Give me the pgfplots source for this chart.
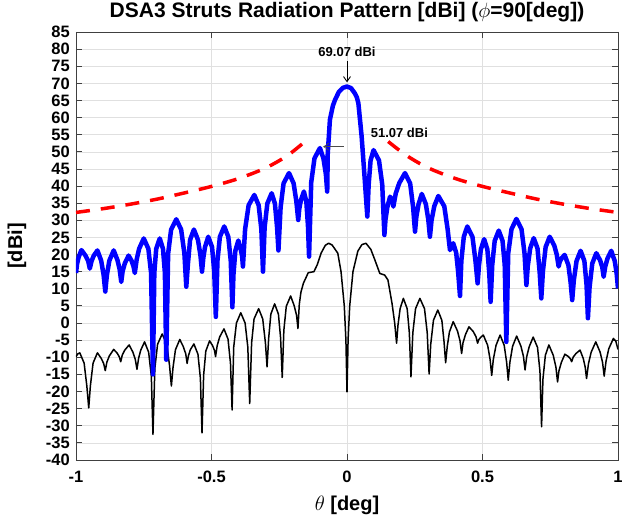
\documentclass[border=0pt]{standalone}
\usepackage{pgfplots}
\pgfplotsset{compat=1.18}
\usepackage{fontspec}
\setmainfont{Liberation Sans}
\usetikzlibrary{arrows.meta}

\begin{document}
\begin{tikzpicture}
\useasboundingbox (-76pt,-57pt) rectangle (554pt,460pt);
\begin{axis}[
  at={(0,0)}, anchor=south west,
  scale only axis, width=542pt, height=428pt,
  xmin=-1, xmax=1, ymin=-40, ymax=85,
  xtick={-1,-0.5,0,0.5,1}, ytick distance=5,
  /pgf/number format/assume math mode=true,
  tick label style={font=\bfseries\fontsize{16.5}{16.5}\selectfont, inner sep=1pt},
  xticklabel style={yshift=-10pt},
  yticklabel style={xshift=-5pt},
  grid=major, major grid style={black!12, line width=0.6pt},
  axis line style={black!75, line width=0.9pt},
  major tick length=6pt, tick style={black!75, line width=0.9pt},
  title={DSA3 Struts Radiation Pattern [dBi] ($\phi$=90[deg])},
  title style={font=\bfseries\fontsize{21}{21}\selectfont, at={(axis description cs:0.5,1)}, anchor=base, yshift=8pt},
  xlabel={$\theta$ [deg]}, ylabel={[dBi]},
  label style={font=\bfseries\fontsize{20}{20}\selectfont},
  xlabel style={at={(axis description cs:0.5,-0.105)}, anchor=center},
  ylabel style={at={(axis description cs:-0.109,0.5)}, anchor=center},
]
% black: reference pattern
\addplot[black, line width=1.5pt, line join=round] coordinates {
(-1.000,-9.8) (-0.993,-9.0) (-0.986,-8.7) (-0.970,-11.7) (-0.960,-18.4) (-0.953,-24.8)
(-0.947,-18.4) (-0.937,-11.7) (-0.921,-8.7) (-0.907,-10.3) (-0.898,-11.8) (-0.892,-13.9)
(-0.886,-11.4) (-0.877,-9.6) (-0.861,-7.7) (-0.848,-8.8) (-0.840,-9.9) (-0.835,-11.3)
(-0.829,-9.3) (-0.820,-7.9) (-0.804,-6.4) (-0.790,-8.5) (-0.781,-10.7) (-0.775,-13.5)
(-0.769,-10.3) (-0.761,-7.9) (-0.747,-5.5) (-0.732,-8.5) (-0.722,-15.5) (-0.716,-32.5)
(-0.709,-13.2) (-0.699,-6.2) (-0.682,-3.2) (-0.665,-6.2) (-0.655,-12.3) (-0.648,-18.4)
(-0.642,-13.0) (-0.633,-7.8) (-0.617,-4.8) (-0.604,-6.9) (-0.595,-9.0) (-0.590,-11.8)
(-0.585,-9.5) (-0.578,-7.8) (-0.565,-6.1) (-0.550,-9.1) (-0.541,-16.1) (-0.535,-32.1)
(-0.529,-15.2) (-0.521,-8.2) (-0.507,-5.2) (-0.496,-6.6) (-0.489,-8.0) (-0.485,-9.8)
(-0.479,-6.6) (-0.470,-4.1) (-0.454,-1.7) (-0.439,-4.7) (-0.430,-11.7) (-0.424,-25.4)
(-0.418,-7.0) (-0.408,0.0) (-0.392,3.0) (-0.376,0.0) (-0.366,-7.0) (-0.359,-23.5)
(-0.352,-5.8) (-0.343,1.2) (-0.326,4.2) (-0.311,1.2) (-0.301,-5.8) (-0.295,-12.8)
(-0.289,-4.4) (-0.281,2.6) (-0.267,5.6) (-0.253,2.6) (-0.245,-4.4) (-0.239,-15.9)
(-0.233,-2.1) (-0.224,4.9) (-0.208,7.9) (-0.195,5.1) (-0.186,2.2) (-0.181,-1.6)
(-0.176,5.5) (-0.170,9.0) (-0.161,11.6) (-0.143,14.7) (-0.122,15.0) (-0.110,17.0)
(-0.095,20.5) (-0.080,22.7) (-0.068,23.3) (-0.055,22.8) (-0.034,20.4) (-0.022,15.0)
(-0.010,5.0) (-0.004,-5.0) (0.000,-20.1) (0.004,-5.0) (0.010,5.0) (0.022,15.0)
(0.040,21.0) (0.055,22.9) (0.070,23.3) (0.088,21.5) (0.103,18.4) (0.121,14.5)
(0.139,14.0) (0.151,12.6) (0.166,5.8) (0.176,0.0) (0.183,-5.9)
(0.188,-0.7) (0.196,4.2) (0.208,7.2) (0.222,4.2) (0.230,-2.8) (0.236,-15.7)
(0.243,-2.8) (0.253,4.2) (0.269,7.2) (0.286,4.2) (0.296,-2.8) (0.303,-14.9)
(0.309,-6.2) (0.319,0.8) (0.335,3.8) (0.350,0.8) (0.358,-5.4) (0.364,-11.6)
(0.370,-6.8) (0.378,-2.6) (0.392,0.4) (0.408,-2.4) (0.417,-5.2) (0.423,-8.9)
(0.428,-5.8) (0.437,-3.4) (0.450,-1.1) (0.466,-2.5) (0.476,-4.0) (0.482,-5.9)
(0.486,-4.9) (0.493,-4.2) (0.503,-3.5) (0.519,-6.5) (0.528,-10.6) (0.534,-15.3)
(0.540,-10.6) (0.550,-6.5) (0.565,-3.5) (0.580,-6.5) (0.589,-11.4) (0.595,-16.7)
(0.601,-11.5) (0.611,-6.8) (0.626,-3.8) (0.642,-6.8) (0.651,-9.7) (0.657,-13.7)
(0.663,-9.9) (0.672,-7.0) (0.687,-4.1) (0.703,-7.1) (0.712,-14.1) (0.718,-30.3)
(0.723,-16.4) (0.732,-9.4) (0.745,-6.4) (0.761,-9.4) (0.771,-12.9) (0.777,-17.2)
(0.782,-14.0) (0.791,-11.5) (0.804,-9.1) (0.817,-9.8) (0.824,-10.4) (0.829,-11.3)
(0.835,-9.9) (0.845,-8.9) (0.860,-7.9) (0.872,-10.4) (0.879,-12.9) (0.884,-16.2)
(0.891,-11.9) (0.901,-8.5) (0.918,-5.5) (0.934,-8.5) (0.943,-11.5) (0.949,-15.5)
(0.956,-11.1) (0.966,-7.5) (0.983,-4.5) (0.992,-5.3) (1.000,-7.7)
};
% blue: struts pattern
\addplot[blue, line width=4.5pt, line join=round] coordinates {
(-1.000,14.6) (-0.996,17.3) (-0.990,19.3) (-0.980,21.3) (-0.965,19.7) (-0.955,18.1) (-0.949,15.9)
(-0.943,18.0) (-0.935,19.6) (-0.921,21.2) (-0.907,18.2) (-0.898,14.0) (-0.892,9.2)
(-0.886,14.0) (-0.877,18.2) (-0.861,21.2) (-0.847,18.4) (-0.839,15.7) (-0.833,12.0)
(-0.828,15.1) (-0.820,17.4) (-0.806,19.7) (-0.795,18.2) (-0.788,16.6) (-0.783,14.6)
(-0.776,18.6) (-0.767,21.7) (-0.750,24.7) (-0.733,21.7) (-0.723,14.7) (-0.716,-15.0)
(-0.711,14.7) (-0.704,21.7) (-0.691,24.7) (-0.679,21.7) (-0.672,14.7) (-0.667,-10.7)
(-0.660,20.3) (-0.649,27.3) (-0.630,30.3) (-0.612,27.3) (-0.600,20.3) (-0.593,10.6)
(-0.587,17.3) (-0.579,24.3) (-0.565,27.3) (-0.550,24.3) (-0.541,19.9) (-0.535,15.0)
(-0.530,19.1) (-0.524,22.2) (-0.512,25.2) (-0.498,22.2) (-0.490,15.2) (-0.484,1.8)
(-0.478,18.2) (-0.469,25.2) (-0.453,28.2) (-0.438,25.2) (-0.429,18.2) (-0.423,4.6)
(-0.419,14.1) (-0.412,21.1) (-0.401,24.1) (-0.393,21.8) (-0.387,19.5) (-0.384,16.5)
(-0.376,27.4) (-0.363,34.4) (-0.342,37.4) (-0.326,34.4) (-0.316,27.4) (-0.310,15.0)
(-0.304,27.9) (-0.294,34.9) (-0.278,37.9) (-0.266,34.9) (-0.258,27.9) (-0.253,21.2)
(-0.245,33.8) (-0.234,40.8) (-0.214,43.8) (-0.197,40.8) (-0.187,35.6) (-0.180,30.1)
(-0.176,33.4) (-0.170,35.9) (-0.159,38.4) (-0.150,35.4) (-0.144,28.4) (-0.140,19.4)
(-0.132,41.1) (-0.120,48.1) (-0.100,51.1) (-0.087,48.1) (-0.078,43.5) (-0.073,38.4)
(-0.071,49.6) (-0.063,59.4) (-0.052,63.5) (-0.044,65.2) (-0.030,67.5) (-0.015,68.7)
(0.000,69.07) (0.015,68.6) (0.028,67.2) (0.036,66.0) (0.042,64.2) (0.054,54.5)
(0.063,44.7) (0.075,31.1)
(0.080,40.5) (0.087,47.5) (0.098,50.5) (0.118,47.5) (0.130,40.5) (0.138,25.7)
(0.142,30.2) (0.149,33.9) (0.159,36.9) (0.165,36.0) (0.169,35.2) (0.171,34.0)
(0.180,37.9) (0.193,40.9) (0.214,43.8) (0.233,40.8) (0.244,33.8) (0.251,26.7)
(0.256,31.1) (0.264,34.7) (0.276,37.7) (0.291,34.7) (0.300,30.2) (0.306,25.2)
(0.312,30.0) (0.322,34.1) (0.337,37.1) (0.359,34.1) (0.371,27.6) (0.380,21.3)
(0.392,23.3) (0.403,20.5) (0.410,15.0) (0.417,7.9)
(0.422,18.2) (0.431,25.2) (0.444,28.2) (0.463,25.2) (0.474,18.2) (0.482,11.6)
(0.487,16.8) (0.494,21.5) (0.506,24.5) (0.518,21.5) (0.525,14.5) (0.530,6.2)
(0.536,17.0) (0.545,24.0) (0.560,27.0) (0.574,24.0) (0.582,17.0) (0.588,-5.5)
(0.595,20.4) (0.607,27.4) (0.625,30.4) (0.644,27.4) (0.655,20.4) (0.662,11.1)
(0.667,16.6) (0.676,21.8) (0.689,24.8) (0.703,21.8) (0.711,14.8) (0.717,7.2)
(0.723,15.2) (0.733,22.2) (0.748,25.2) (0.765,22.6) (0.774,20.0) (0.781,16.5)
(0.785,17.9) (0.792,18.9) (0.803,19.9) (0.817,16.9) (0.825,12.0) (0.831,6.7)
(0.837,12.5) (0.847,18.1) (0.862,21.1) (0.876,18.1) (0.884,11.1) (0.889,1.4)
(0.895,10.4) (0.905,17.4) (0.920,20.4) (0.934,18.3) (0.942,16.3) (0.947,13.5)
(0.953,16.5) (0.961,18.8) (0.975,21.1) (0.988,18.1) (0.995,14.5) (1.000,10.1)
};
% red dashed envelope
\addplot[red, line width=3.5pt, dash pattern=on 14pt off 11pt, smooth] coordinates {
(-1.0,32.3) (-0.9,33.4) (-0.8,34.7) (-0.7,36.2) (-0.6,38.0) (-0.5,39.9)
(-0.4,42.2) (-0.3,45.3) (-0.22,48.9) (-0.155,53.0)
};
\addplot[red, line width=3.5pt, dash pattern=on 14pt off 11pt, smooth] coordinates {
(0.152,53.0) (0.22,48.9) (0.3,45.3) (0.4,42.2) (0.5,39.9) (0.6,38.0)
(0.7,36.2) (0.8,34.7) (0.9,33.4) (1.0,32.3)
};
% annotations
\node[font=\bfseries\fontsize{13}{13}\selectfont] at (axis cs:0,79.3) {69.07 dBi};
\draw[-{Straight Barb[length=5pt,width=7pt]}, line width=0.9pt] (axis cs:0,76.6) -- (axis cs:0,70.3);
\node[anchor=west, font=\bfseries\fontsize{13}{13}\selectfont] at (axis cs:0.075,55.6) {51.07 dBi};
\draw[-{Straight Barb[length=5pt,width=7pt]}, line width=0.7pt, black!70] (axis cs:-0.012,51.5) -- (axis cs:-0.088,51.5);
\end{axis}
\end{tikzpicture}
\end{document}
